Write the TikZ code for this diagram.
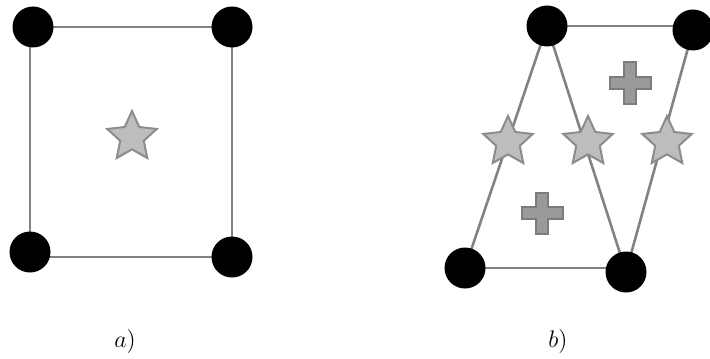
\documentclass[tikz,border=0pt]{standalone}
\usetikzlibrary{shapes.geometric,backgrounds}
\definecolor{edgegray}{HTML}{828282}
\definecolor{starfill}{HTML}{BDBDBD}
\definecolor{starline}{HTML}{8C8C8C}
\definecolor{plusfill}{HTML}{9A9A9A}
\definecolor{plusline}{HTML}{7C7C7C}
\tikzset{
  vtx/.style={circle,fill=black,inner sep=0pt,minimum size=20.5pt},
  edge/.style={draw=edgegray,line width=1.3pt},
  starmark/.style={star,star points=5,star point ratio=2.1,fill=starfill,draw=starline,line width=1pt,minimum size=26pt,inner sep=0pt},
  plusmark/.style={fill=plusfill,draw=plusline,line width=1pt},
  lab/.style={font=\fontsize{13}{15}\selectfont}
}
\begin{document}
\begin{tikzpicture}[x=0.5pt,y=-0.5pt]
\useasboundingbox (0,0) rectangle (710,358);
% a)
\node[vtx] (a1) at (33,27) {};
\node[vtx] (a2) at (232,27) {};
\node[vtx] (a3) at (30,252) {};
\node[vtx] (a4) at (232,257) {};
\begin{pgfonlayer}{background}
\draw[edge] (a1.center) -- (a2.center);
\draw[edge] (a2.center) -- (a4.center);
\draw[edge] (a4.center) -- (a4.center -| a3.center);
\draw[edge] (a3.center) -- (a3.center |- a1.center);
\end{pgfonlayer}
\node[starmark] (sa) at (132,137) {};
% b)
\node[vtx] (b1) at (547,26) {};
\node[vtx] (b2) at (693,30) {};
\node[vtx] (b3) at (465,268) {};
\node[vtx] (b4) at (626,272) {};
\begin{pgfonlayer}{background}
\draw[edge] (b1.center) -- (b1.center -| b2.center);
\draw[edge] (b1.center) -- (b3.center);
\draw[edge] (b1.center) -- (b4.center);
\draw[edge] (b2.center) -- (b4.center);
\draw[edge] (b3.center) -- (b3.center -| b4.center);
\end{pgfonlayer}
\node[starmark] (s1) at (508,142) {};
\node[starmark] (s2) at (588,142) {};
\node[starmark] (s3) at (667,142) {};
\coordinate (p1) at (630,83);
\coordinate (p2) at (542,213);
\foreach \p in {p1,p2}{
  \filldraw[plusmark] (\p) ++(-6,-20.5) -- ++(12,0) -- ++(0,14.5) -- ++(14.5,0) -- ++(0,12) -- ++(-14.5,0) -- ++(0,14.5) -- ++(-12,0) -- ++(0,-14.5) -- ++(-14.5,0) -- ++(0,-12) -- ++(14.5,0) -- cycle;
}
\node[lab] (la) at (125,341) {$a)$};
\node[lab] (lb) at (558,341) {$b)$};
\end{tikzpicture}
\end{document}
